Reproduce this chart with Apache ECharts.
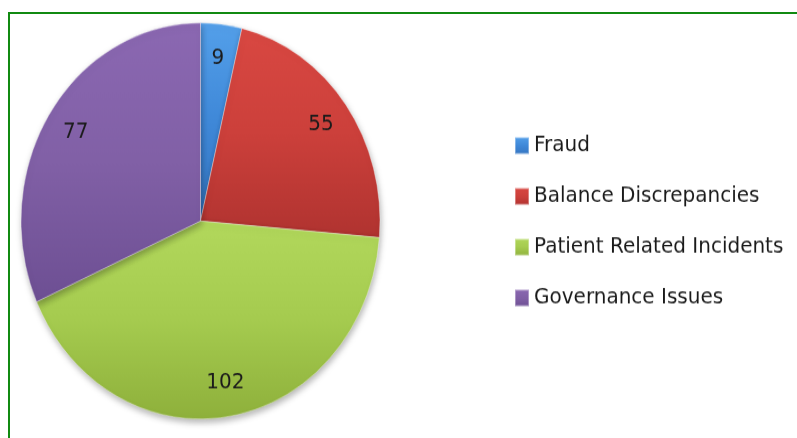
<!DOCTYPE html>
<html>
<head>
<meta charset="utf-8">
<script src="https://cdn.jsdelivr.net/npm/echarts@6/dist/echarts.min.js"></script>
<style>
  html, body { margin: 0; padding: 0; background: #ffffff; overflow: hidden; }
  #wrap { position: relative; width: 797px; height: 438px; overflow: hidden; background: #fff; }
  #frame { position: absolute; left: 8px; top: 12px; width: 820px; height: 460px;
           border-top: 2px solid #118a11; border-left: 2px solid #118a11; box-sizing: border-box; }
  #chart { position: absolute; left: 0; top: 0; width: 797px; height: 397px;
           transform: scaleY(1.1033); transform-origin: 0 0; }
</style>
</head>
<body>
<div id="wrap">
  <div id="frame"></div>
  <div id="chart"></div>
</div>
<script>
// ---- data ----
const categories = ['Fraud', 'Balance Discrepancies', 'Patient Related Incidents', 'Governance Issues'];
const values = [9, 55, 102, 77];

// ---- styling ----
const palette = [
  ['#54a0ea', '#3f88d8', '#3474c0'],
  ['#d94842', '#cc403b', '#b03330'],
  ['#b2d85c', '#a5cb4f', '#8eb03b'],
  ['#8b68b2', '#8160a6', '#6d4f93']
];

function grad(c) {
  return new echarts.graphic.LinearGradient(0, 0, 0, 1, [
    { offset: 0, color: c[0] },
    { offset: 0.5, color: c[1] },
    { offset: 1, color: c[2] }
  ]);
}

const pieData = categories.map((name, i) => ({
  name: name,
  value: values[i],
  itemStyle: { color: grad(palette[i]) }
}));

const labelData = categories.map((name, i) => ({ name: name, value: values[i] }));

const chart = echarts.init(document.getElementById('chart'), null, { renderer: 'canvas' });
chart.setOption({
  animation: false,
  backgroundColor: 'transparent',
  legend: {
    data: categories,
    orient: 'vertical',
    left: 509,
    top: 116,
    itemWidth: 14,
    itemHeight: 15,
    itemGap: 24,
    icon: 'rect',
    textStyle: { fontFamily: 'DejaVu Sans', fontSize: 20, color: '#1a1a1a', lineHeight: 22 }
  },
  series: [
    {
      type: 'pie',
      name: 'main',
      center: [200.5, 200.3],
      radius: [0, 179.5],
      startAngle: 90,
      clockwise: true,
      label: { show: false },
      labelLine: { show: false },
      itemStyle: {
        borderColor: 'rgba(255,255,255,0.35)',
        borderWidth: 1,
        shadowBlur: 6,
        shadowOffsetY: 3,
        shadowOffsetX: 1,
        shadowColor: 'rgba(0,0,0,0.3)'
      },
      emphasis: { disabled: true },
      data: pieData
    },
    {
      type: 'pie',
      name: 'labels',
      silent: true,
      center: [200.5, 200.3],
      radius: [112, 179.5],
      startAngle: 90,
      clockwise: true,
      itemStyle: { color: 'rgba(0,0,0,0)', borderWidth: 0 },
      label: {
        show: true,
        position: 'inside',
        formatter: '{c}',
        fontFamily: 'DejaVu Sans',
        fontSize: 20,
        color: '#1b1b1b'
      },
      labelLine: { show: false },
      emphasis: { disabled: true },
      data: labelData
    }
  ]
});
</script>
</body>
</html>
